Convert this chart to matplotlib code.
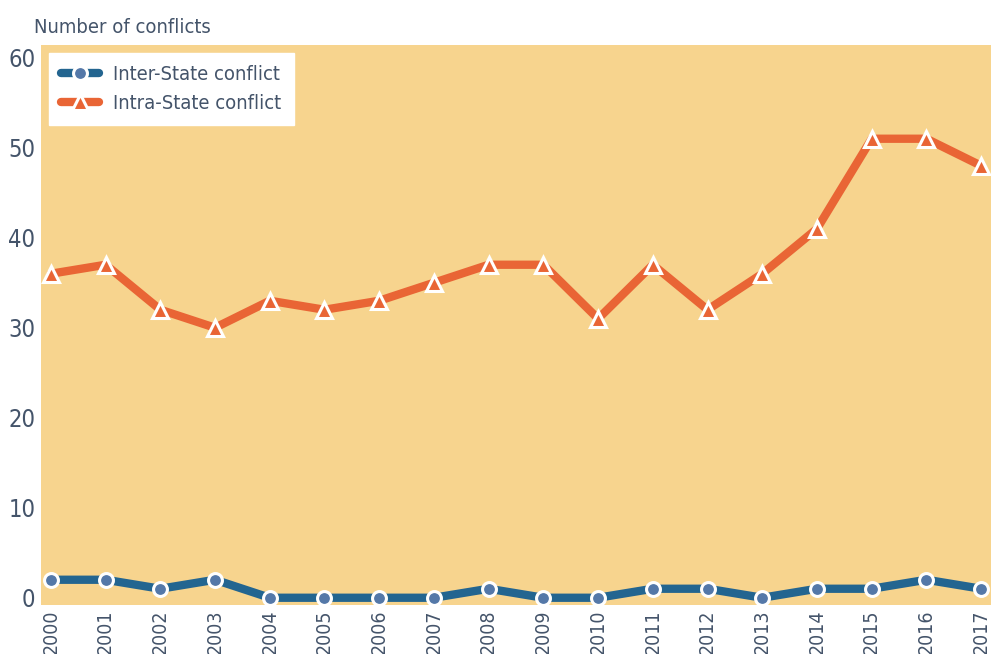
import matplotlib
matplotlib.use("Agg")
import matplotlib.pyplot as plt

# --- DATA ---
years = list(range(2000, 2018))
inter_state = [2, 2, 1, 2, 0, 0, 0, 0, 1, 0, 0, 1, 1, 0, 1, 1, 2, 1]
intra_state = [36, 37, 32, 30, 33, 32, 33, 35, 37, 37, 31, 37, 32, 36, 41, 51, 51, 48]
y_ticks = [0, 10, 20, 30, 40, 50, 60]

# --- STYLE ---
text_col = "#44546A"
bg_col = "#F7D48E"
blue = "#236590"
blue_face = "#5478A8"
orange = "#E96535"
plt.rcParams["font.family"] = ["DejaVu Sans"]
plt.rcParams["font.stretch"] = "condensed"

fig = plt.figure(figsize=(9.91, 6.54), dpi=100)
ax = fig.add_axes([0.0414, 0.075, 0.9586, 0.856])
ax.set_facecolor(bg_col)

ax.plot(years, inter_state, color=blue, lw=6, marker="o", ms=10,
        mfc=blue_face, mec="white", mew=2.2, label="Inter-State conflict",
        solid_capstyle="round", zorder=3)
ax.plot(years, intra_state, color=orange, lw=6, marker="^", ms=12,
        mfc=orange, mec="white", mew=2.2, label="Intra-State conflict",
        solid_capstyle="round", zorder=3)

ax.set_xlim(1999.82, 2017.18)
ax.set_ylim(-0.8, 61.4)
ax.set_xticks(years)
ax.set_xticklabels([str(y) for y in years], rotation=90, fontsize=14, color=text_col)
ax.set_yticks(y_ticks)
ax.set_yticklabels([str(t) for t in y_ticks], fontsize=17, color=text_col)
ax.tick_params(axis="y", length=0, pad=4)
ax.tick_params(axis="x", length=0, pad=3)
for s in ax.spines.values():
    s.set_visible(False)

fig.text(0.034, 0.958, "Number of conflicts", fontsize=14.5, color=text_col, va="center")

leg = ax.legend(loc="upper left", bbox_to_anchor=(0.0084, 0.986), borderaxespad=0,
                fontsize=14.5, frameon=True, fancybox=False, framealpha=1,
                edgecolor="white", handlelength=1.9, handletextpad=0.7,
                borderpad=0.6, labelspacing=0.5)
for t in leg.get_texts():
    t.set_color(text_col)

fig.savefig("out.png", dpi=100)
